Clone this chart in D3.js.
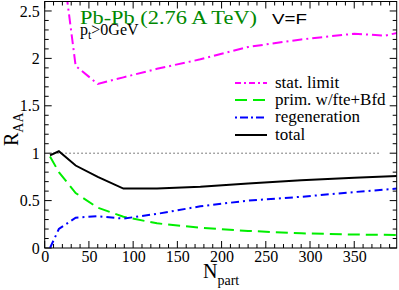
<!DOCTYPE html>
<html><head><meta charset="utf-8">
<script src="https://cdn.jsdelivr.net/npm/d3@7"></script>
<style>body{margin:0;background:#fff}svg{display:block}</style>
</head><body><svg id="c" width="399" height="290"></svg>
<script>
const nX = [6, 16, 35, 60, 89, 127, 176, 230, 290, 350, 399];
const totalY = [0.977, 1.02, 0.87, 0.75, 0.627, 0.627, 0.645, 0.68, 0.714, 0.74, 0.76];
const primY  = [0.966, 0.80, 0.58, 0.425, 0.33, 0.26, 0.213, 0.18, 0.155, 0.142, 0.137];
const regenY = [0.0, 0.20, 0.32, 0.335, 0.31, 0.36, 0.44, 0.50, 0.54, 0.59, 0.627];
const statX = [16, 35, 60, 89, 127, 176, 230, 290, 350, 385, 399];
const statY = [3.3, 1.92, 1.73, 1.80, 1.89, 1.99, 2.12, 2.20, 2.26, 2.24, 2.27];
const xTicks = [0, 50, 100, 150, 200, 250, 300, 350];
const yTicks = [0, 0.5, 1, 1.5, 2, 2.5];
const legendLabels = ["stat. limit", "prim. w/fte+Bfd", "regeneration", "total"];

const SERIF = "'Liberation Serif', 'DejaVu Serif', serif";
const SANS = "'Liberation Sans', Arial, sans-serif";
const svg = d3.select("#c");
const L = 44.7, R = 396.7, T = 1.5, B = 248;
const x = d3.scaleLinear().domain([0, 398]).range([L, R]);
const y = d3.scaleLinear().domain([0, 2.6]).range([B, T]);

svg.append("defs").append("clipPath").attr("id","clip").append("rect")
  .attr("x", L).attr("y", T).attr("width", R-L).attr("height", B-T);

const minorX = d3.range(0, 399, 10), minorY = d3.range(0, 2.61, 0.1);
const axB = d3.axisBottom(x).tickValues(xTicks).tickSize(0).tickPadding(2).tickFormat(d3.format("d"));
const axL = d3.axisLeft(y).tickValues(yTicks).tickSize(0).tickPadding(5).tickFormat(d => d3.format("")(d));
const gb = svg.append("g").attr("transform", `translate(0,${B})`).call(axB);
const gl = svg.append("g").attr("transform", `translate(${L},0)`).call(axL);
[gb, gl].forEach(a => {
  a.select(".domain").remove();
  a.attr("font-family", null).attr("font-size", null);
  a.selectAll("text").style("font-family", SERIF).style("font-size","16px").attr("fill","#000");
});
gb.selectAll("text").attr("dy","0.75em");

const ticks = svg.append("g").attr("stroke","#000").attr("stroke-width",1);
minorX.forEach(v => {
  const len = xTicks.includes(v) ? 7 : 4;
  ticks.append("line").attr("x1", x(v)).attr("x2", x(v)).attr("y1", B).attr("y2", B-len);
  ticks.append("line").attr("x1", x(v)).attr("x2", x(v)).attr("y1", T).attr("y2", T+len);
});
minorY.forEach(v => {
  const maj = yTicks.some(t => Math.abs(t - v) < 1e-6);
  const len = maj ? 7 : 4;
  ticks.append("line").attr("y1", y(v)).attr("y2", y(v)).attr("x1", L).attr("x2", L+len);
  ticks.append("line").attr("y1", y(v)).attr("y2", y(v)).attr("x1", R).attr("x2", R-len);
});

svg.append("line").attr("x1", x(10)).attr("x2", x(380)).attr("y1", y(1)).attr("y2", y(1))
  .attr("stroke","#000").attr("stroke-width",1).attr("stroke-dasharray","1,3");

const line = d3.line().x(d => x(d[0])).y(d => y(d[1]));
const plot = svg.append("g").attr("clip-path","url(#clip)").attr("fill","none").attr("stroke-width",2);
const series = [
  {xs: statX, ys: statY, color: "#ff00ff", dash: "10,4,2,4", leg: "6,3,2,3"},
  {xs: nX, ys: primY, color: "#00ee00", dash: "12,6", leg: "12,6"},
  {xs: nX, ys: regenY, color: "#0000ff", dash: "8,4,2,4", leg: "2,3,8,3"},
  {xs: nX, ys: totalY, color: "#000000", dash: null, leg: null}
];
series.forEach(s => {
  plot.append("path").datum(s.xs.map((v,i)=>[v, s.ys[i]])).attr("d", line)
    .attr("stroke", s.color).attr("stroke-dasharray", s.dash);
});

svg.append("rect").attr("x", L).attr("y", T).attr("width", R-L).attr("height", B-T)
  .attr("fill","none").attr("stroke","#000").attr("stroke-width",1);

const legY = [83, 100, 117.5, 135];
series.forEach((s,i) => {
  svg.append("line").attr("x1",235).attr("x2",267).attr("y1",legY[i]).attr("y2",legY[i])
    .attr("stroke", s.color).attr("stroke-width",2).attr("stroke-dasharray", s.leg);
  svg.append("text").attr("x",275).attr("y",legY[i]+4.5)
    .style("font-family", SERIF).style("font-size","17px").text(legendLabels[i]);
});

svg.append("text").attr("x",80).attr("y",23.5).style("font-family", SERIF).style("font-size","18px")
  .attr("fill","#008800").attr("textLength",177).attr("lengthAdjust","spacingAndGlyphs").text("Pb-Pb (2.76 A TeV)");
svg.append("text").attr("x",272).attr("y",23.5).style("font-family", SANS).style("font-size","14px")
  .attr("textLength",35).attr("lengthAdjust","spacingAndGlyphs").text("V=F");
const pt = svg.append("text").attr("x",80).attr("y",35).style("font-family", SERIF).style("font-size","16px");
pt.append("tspan").text("p");
pt.append("tspan").style("font-size","12px").attr("dy",4).text("t");
pt.append("tspan").attr("dy",-4).text(">0GeV");

const xl = svg.append("text").attr("x",203).attr("y",278).style("font-family", SERIF).style("font-size","20px");
xl.append("tspan").text("N");
xl.append("tspan").style("font-size","14px").attr("dy",7).text("part");
const yl = svg.append("text").attr("transform","translate(18,146) rotate(-90)").style("font-family", SERIF).style("font-size","20px");
yl.append("tspan").text("R");
yl.append("tspan").style("font-size","14px").attr("dy",5).text("AA");
</script></body></html>
